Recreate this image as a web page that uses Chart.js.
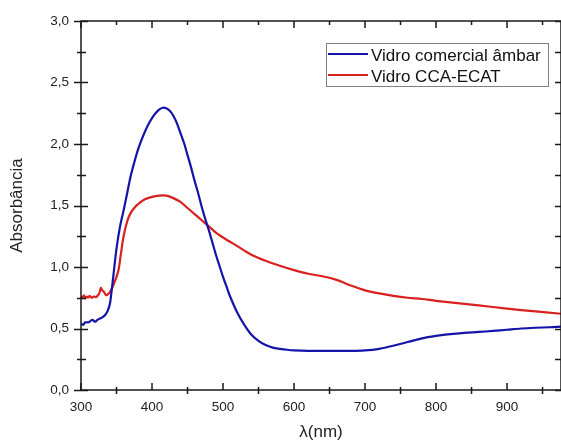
<!DOCTYPE html>
<html>
<head>
<meta charset="utf-8">
<script src="https://cdn.jsdelivr.net/npm/chart.js@4.4.1/dist/chart.umd.min.js"></script>
<style>
  html, body { margin: 0; padding: 0; background: #fff; }
  #wrap { width: 561px; height: 441px; position: relative; }
</style>
</head>
<body>
<div id="wrap"><canvas id="myChart" width="561" height="441"></canvas></div>
<script>
// wavelengths (nm) and absorbance
var blueLambda = [300, 303, 306, 310, 313, 316, 320, 323, 326, 330, 334, 338, 341, 343, 346, 350, 355, 360, 365, 370,
    375, 380, 385, 390, 395, 400, 405, 410, 415, 420, 425, 430, 435, 440, 445, 450, 455, 460, 465, 470,
    475, 480, 485, 490, 495, 500, 505, 510, 520, 530, 540, 550, 560, 570, 580, 590, 600, 620, 650, 680,
    700, 720, 740, 760, 780, 800, 820, 840, 860, 880, 900, 920, 940, 960, 976]
var blueAbs = [0.54, 0.53, 0.55, 0.55, 0.56, 0.57, 0.555, 0.57, 0.58, 0.59, 0.61, 0.65, 0.71, 0.80, 0.95, 1.15, 1.33, 1.46, 1.60, 1.74,
    1.85, 1.95, 2.03, 2.10, 2.16, 2.21, 2.25, 2.28, 2.295, 2.29, 2.27, 2.23, 2.17, 2.09, 2.01, 1.91, 1.81, 1.70, 1.60, 1.49,
    1.39, 1.30, 1.20, 1.10, 1.01, 0.92, 0.84, 0.76, 0.63, 0.53, 0.45, 0.40, 0.365, 0.345, 0.335, 0.327, 0.322, 0.318, 0.318, 0.318,
    0.322, 0.335, 0.36, 0.39, 0.42, 0.44, 0.455, 0.465, 0.472, 0.48, 0.49, 0.50, 0.506, 0.51, 0.515]

var redLambda = [300, 302, 304, 306, 308, 310, 312, 315, 318, 321, 324, 326, 328, 330, 332, 334, 336, 338, 340, 343,
    346, 350, 353, 356, 360, 365, 370, 375, 380, 390, 400, 410, 420, 430, 440, 450, 460, 470, 480, 490,
    500, 520, 540, 560, 580, 600, 620, 640, 660, 680, 700, 720, 740, 760, 780, 800, 840, 880, 920, 976]
var redAbs = [0.76, 0.75, 0.77, 0.745, 0.76, 0.75, 0.765, 0.75, 0.76, 0.755, 0.77, 0.79, 0.83, 0.81, 0.80, 0.78, 0.77, 0.78, 0.79, 0.82,
    0.86, 0.92, 0.98, 1.10, 1.25, 1.37, 1.44, 1.48, 1.51, 1.55, 1.57, 1.58, 1.58, 1.56, 1.53, 1.48, 1.43, 1.38, 1.33, 1.28,
    1.24, 1.17, 1.10, 1.05, 1.01, 0.975, 0.945, 0.925, 0.895, 0.85, 0.81, 0.785, 0.765, 0.75, 0.74, 0.725, 0.70, 0.675, 0.65, 0.62]

var seriesNames = ['Vidro comercial \u00e2mbar', 'Vidro CCA-ECAT']
var seriesColors = ['#1414aa', '#d8201e']

var xMin = 300, xMax = 976, xStep = 100
var yMin = 0, yMax = 3, yStep = 0.5

function toPoints(xs, ys) {
    var pts = []
    for (var i = 0; i < xs.length; i++) pts.push({ x: xs[i], y: ys[i] })
    return pts
}

// frame with ticks crossing / pointing inward, like the original plot
var framePlugin = {
    id: 'frame',
    afterDatasetsDraw: function (chart) {
        var ctx = chart.ctx, a = chart.chartArea
        var x = chart.scales.x, y = chart.scales.y
        ctx.save()
        ctx.strokeStyle = '#1a1a1a'
        ctx.lineWidth = 1.5
        ctx.strokeRect(a.left, a.top, a.right - a.left, a.bottom - a.top)
        ctx.beginPath()
        for (var v = xMin; v <= xMax; v += xStep / 2) {
            var px = x.getPixelForValue(v)
            var major = (v % xStep) === 0
            if (major) {
                ctx.moveTo(px, a.bottom); ctx.lineTo(px, a.bottom - 7)
                ctx.moveTo(px, a.top); ctx.lineTo(px, a.top + 7)
            } else {
                ctx.moveTo(px, a.bottom + 4); ctx.lineTo(px, a.bottom - 3)
                ctx.moveTo(px, a.top); ctx.lineTo(px, a.top + 4)
            }
        }
        for (var w = yMin; w <= yMax + 1e-9; w += yStep / 2) {
            var py = Math.round(y.getPixelForValue(w)) + 0.5
            var maj = Math.abs(w / yStep - Math.round(w / yStep)) < 1e-6
            if (maj) {
                ctx.moveTo(a.left - 7, py); ctx.lineTo(a.left + 7, py)
            } else {
                ctx.moveTo(a.left - 4, py); ctx.lineTo(a.left + 5, py)
            }
            ctx.moveTo(a.right, py); ctx.lineTo(a.right - 6, py)
        }
        ctx.stroke()

        // legend box
        var bx = 326.5, by = 43.5, bw = 222, bh = 43
        ctx.fillStyle = '#fff'
        ctx.fillRect(bx, by, bw, bh)
        ctx.strokeStyle = '#808080'
        ctx.lineWidth = 1
        ctx.strokeRect(bx, by, bw, bh)
        ctx.font = '17px "Liberation Sans", Arial, sans-serif'
        ctx.textBaseline = 'middle'
        ctx.textAlign = 'left'
        chart.data.datasets.forEach(function (ds, i) {
            var ly = 54 + i * 21
            ctx.strokeStyle = ds.borderColor
            ctx.lineWidth = 2.2
            ctx.beginPath()
            ctx.moveTo(328, ly); ctx.lineTo(368, ly)
            ctx.stroke()
            ctx.fillStyle = '#111'
            ctx.fillText(ds.label, 371, ly + 2)
        })
        ctx.restore()
    }
}

function buildGraph() {
    var ctx = document.getElementById('myChart').getContext('2d')
    var chart = new Chart(ctx, {
        type: 'line',
        data: {
            datasets: [{
                label: seriesNames[0],
                data: toPoints(blueLambda, blueAbs),
                borderColor: seriesColors[0],
                borderWidth: 2.2,
                pointRadius: 0,
                tension: 0.3,
                fill: false
            }, {
                label: seriesNames[1],
                data: toPoints(redLambda, redAbs),
                borderColor: seriesColors[1],
                borderWidth: 2.2,
                pointRadius: 0,
                tension: 0.3,
                fill: false
            }]
        },
        options: {
            responsive: false,
            animation: false,
            layout: { padding: { top: 21, right: 0, left: 0, bottom: 0 } },
            plugins: { legend: { display: false }, tooltip: { enabled: false } },
            scales: {
                x: {
                    type: 'linear',
                    min: xMin, max: xMax,
                    grid: { display: false },
                    border: { display: false },
                    ticks: {
                        stepSize: xStep,
                        includeBounds: false,
                        padding: 1,
                        color: '#222',
                        font: { family: '"Liberation Sans", Arial, sans-serif', size: 13.5 },
                        maxRotation: 0,
                        callback: function (v) { return v }
                    },
                    title: {
                        display: true,
                        text: '\u03bb(nm)',
                        color: '#222',
                        font: { family: '"Liberation Sans", Arial, sans-serif', size: 17, lineHeight: 1 },
                        padding: { top: 0, bottom: 0 }
                    },
                    afterFit: function (s) { s.height = 51 }
                },
                y: {
                    min: yMin, max: yMax,
                    grid: { display: false },
                    border: { display: false },
                    ticks: {
                        stepSize: yStep,
                        padding: 4,
                        color: '#222',
                        font: { family: '"Liberation Sans", Arial, sans-serif', size: 13.5 },
                        callback: function (v) { return v.toFixed(1).replace('.', ',') }
                    },
                    title: {
                        display: true,
                        text: 'Absorb\u00e2ncia',
                        color: '#222',
                        font: { family: '"Liberation Sans", Arial, sans-serif', size: 17, lineHeight: 1 },
                        padding: { top: 9, bottom: 0 }
                    },
                    afterFit: function (s) { s.width = 81 }
                }
            }
        },
        plugins: [framePlugin]
    })
}

buildGraph()
</script>
</body>
</html>
